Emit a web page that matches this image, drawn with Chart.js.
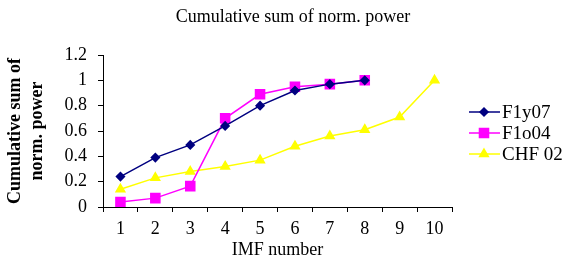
<!DOCTYPE html>
<html>
<head>
<meta charset="utf-8">
<script src="https://cdn.jsdelivr.net/npm/chart.js@4/dist/chart.umd.min.js"></script>
<style>
  body { margin: 0; background: #fff; }
</style>
</head>
<body>
<canvas id="powerChart" width="566" height="261"></canvas>
<script>
// categories and series
var imfLabels = ['1', '2', '3', '4', '5', '6', '7', '8', '9', '10'];
var f1y07 = [0.24, 0.39, 0.49, 0.64, 0.80, 0.92, 0.97, 1.00];
var f1o04 = [0.04, 0.07, 0.165, 0.70, 0.89, 0.95, 0.97, 1.00];
var chf02 = [0.14, 0.23, 0.28, 0.32, 0.37, 0.48, 0.56, 0.61, 0.71, 1.00];
var yTickLabels = ['0', '0.2', '0.4', '0.6', '0.8', '1', '1.2'];

var serif = 'Liberation Serif';

// legend with a short line + marker, like the spreadsheet one
var lineLegend = {
    id: 'lineLegend',
    afterDraw: function(chart) {
        var ctx = chart.ctx;
        var area = chart.chartArea;
        var x0 = area.right + 17;
        var y0 = area.top + 57;
        ctx.save();
        chart.data.datasets.forEach(function(ds, i) {
            var y = y0 + i * 21;
            ctx.strokeStyle = ds.borderColor;
            ctx.lineWidth = ds.borderWidth;
            ctx.beginPath();
            ctx.moveTo(x0, y);
            ctx.lineTo(x0 + 31, y);
            ctx.stroke();
            ctx.fillStyle = ds.pointBackgroundColor;
            ctx.strokeStyle = ds.pointBorderColor;
            Chart.helpers.drawPoint(ctx, {
                pointStyle: ds.pointStyle,
                radius: ds.pointRadius,
                rotation: 0,
                borderWidth: 1
            }, x0 + 15, y);
            ctx.fillStyle = '#000';
            ctx.font = '19px "' + serif + '"';
            ctx.textBaseline = 'middle';
            ctx.textAlign = 'left';
            ctx.fillText(ds.label, x0 + 33, y + 1);
        });
        ctx.restore();
    }
};

var ctx = document.getElementById('powerChart').getContext('2d');

var powerChart = new Chart(ctx, {
    type: 'line',
    data: {
        labels: imfLabels,
        datasets: [{
            label: 'F1y07',
            data: f1y07,
            borderColor: '#000080',
            backgroundColor: '#000080',
            pointBackgroundColor: '#000080',
            pointBorderColor: '#000080',
            pointStyle: 'rectRot',
            pointRadius: 4,
            borderWidth: 1.5
        }, {
            label: 'F1o04',
            data: f1o04,
            borderColor: '#FF00FF',
            backgroundColor: '#FF00FF',
            pointBackgroundColor: '#FF00FF',
            pointBorderColor: '#FF00FF',
            pointStyle: 'rect',
            pointRadius: 6.4,
            borderWidth: 1.5
        }, {
            label: 'CHF 02',
            data: chf02,
            borderColor: '#FFFF00',
            backgroundColor: '#FFFF00',
            pointBackgroundColor: '#FFFF00',
            pointBorderColor: '#FFFF00',
            pointStyle: 'triangle',
            pointRadius: 5,
            borderWidth: 1.5
        }]
    },
    plugins: [lineLegend],
    options: {
        responsive: false,
        animation: false,
        events: [],
        layout: {
            padding: { left: 20, right: 0, top: 0, bottom: 0 }
        },
        plugins: {
            legend: { display: false },
            tooltip: { enabled: false },
            title: {
                display: true,
                text: 'Cumulative sum of norm. power',
                color: '#000',
                font: { family: serif, size: 18, weight: 'normal' },
                padding: { top: 6, bottom: 27.4 }
            }
        },
        scales: {
            x: {
                offset: true,
                grid: {
                    offset: true,
                    drawOnChartArea: false,
                    tickLength: 5,
                    color: '#000'
                },
                border: { color: '#000', width: 1 },
                ticks: {
                    color: '#000',
                    font: { family: serif, size: 18 },
                    padding: 6,
                    maxRotation: 0
                },
                title: {
                    display: true,
                    text: 'IMF number',
                    color: '#000',
                    font: { family: serif, size: 18 },
                    padding: { top: 0, bottom: 0 }
                },
                afterFit: function(scale) { scale.height = 54; }
            },
            y: {
                min: 0,
                max: 1.2,
                grid: {
                    drawOnChartArea: false,
                    tickLength: 5,
                    color: '#000'
                },
                border: { color: '#000', width: 1 },
                ticks: {
                    stepSize: 0.2,
                    color: '#000',
                    padding: 11,
                    font: { family: serif, size: 18 },
                    callback: function(value, index) { return yTickLabels[index]; }
                },
                title: {
                    display: true,
                    text: ['Cumulative sum of', 'norm. power'],
                    color: '#000',
                    font: { family: serif, size: 18, weight: 'bold', lineHeight: 1.2 },
                    padding: { top: -15, bottom: 0 }
                },
                afterFit: function(scale) { scale.width = 83; }
            },
            // empty axis on the right keeps room for the legend
            spacer: {
                position: 'right',
                axis: 'y',
                display: true,
                grid: { display: false },
                border: { display: false },
                ticks: { display: false },
                afterFit: function(scale) { scale.width = 114; }
            }
        }
    }
});
</script>
</body>
</html>
